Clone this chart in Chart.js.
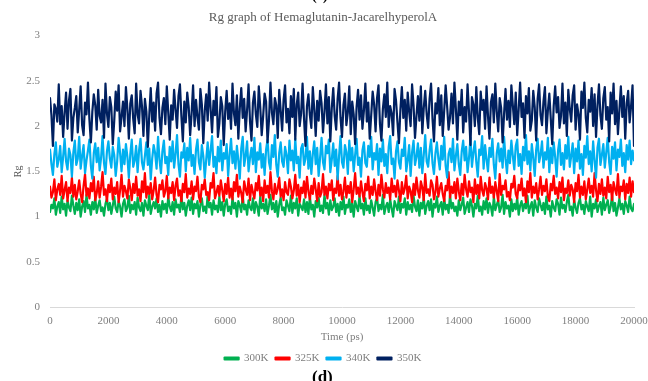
<!DOCTYPE html>
<html>
<head>
<meta charset="utf-8">
<script src="https://cdn.jsdelivr.net/npm/chart.js@4"></script>
<style>
  html, body { margin: 0; padding: 0; background: #ffffff; }
  #wrap { position: relative; width: 648px; height: 381px; overflow: hidden; }
  #cut-top { position: absolute; left: 312px; top: -12px; font: bold 14px "Liberation Serif", serif; color: #000; }
  #cut-bottom { position: absolute; left: 312px; top: 367px; font: bold 17px "Liberation Serif", serif; color: #000; }
</style>
</head>
<body>
<div id="wrap">
  <canvas id="rg" width="648" height="381"></canvas>
  <div id="cut-top">(c)</div>
  <div id="cut-bottom">(d)</div>
</div>
<script>
// Rg values sampled every 50 ps from 0 to 20000 ps
const seriesNames = ["300K", "325K", "340K", "350K"];
const seriesColors = ["#00b050", "#ff0000", "#00b0f0", "#002060"];
const yTicks = [0, 0.5, 1, 1.5, 2, 2.5, 3];

const rg300 = [
  1.05, 1.13, 1.09, 1.20, 1.02, 1.11, 1.16, 1.04, 1.22, 1.08, 1.14, 1.01, 1.18, 1.10, 1.06, 1.23, 1.12, 1.03, 1.15, 1.07,
  1.19, 1.00, 1.11, 1.17, 1.05, 1.24, 1.09, 1.13, 1.02, 1.16, 1.08, 1.21, 1.04, 1.12, 1.18, 1.06, 1.10, 1.01, 1.14, 1.20,
  1.07, 1.15, 1.03, 1.12, 1.22, 1.09, 1.05, 1.17, 1.11, 1.00, 1.14, 1.19, 1.06, 1.10, 1.23, 1.04, 1.13, 1.08, 1.16, 1.02,
  1.21, 1.10, 1.06, 1.15, 1.01, 1.18, 1.12, 1.07, 1.24, 1.03, 1.11, 1.16, 1.09, 1.20, 1.05, 1.13, 1.00, 1.17, 1.08, 1.14,
  1.04, 1.22, 1.11, 1.06, 1.16, 1.02, 1.19, 1.10, 1.13, 1.05, 1.23, 1.08, 1.15, 1.01, 1.12, 1.18, 1.07, 1.21, 1.03, 1.14,
  1.09, 1.17, 1.00, 1.13, 1.20, 1.06, 1.11, 1.04, 1.24, 1.10, 1.15, 1.02, 1.18, 1.08, 1.12, 1.05, 1.22, 1.07, 1.16, 1.01,
  1.14, 1.19, 1.06, 1.11, 1.03, 1.21, 1.09, 1.15, 1.00, 1.17, 1.12, 1.05, 1.23, 1.08, 1.13, 1.02, 1.18, 1.10, 1.07, 1.20,
  1.04, 1.16, 1.11, 1.01, 1.22, 1.09, 1.14, 1.06, 1.19, 1.03, 1.12, 1.24, 1.08, 1.15, 1.05, 1.17, 1.00, 1.13, 1.21, 1.07,
  1.10, 1.02, 1.18, 1.12, 1.06, 1.23, 1.04, 1.15, 1.09, 1.20, 1.01, 1.14, 1.11, 1.07, 1.19, 1.05, 1.16, 1.03, 1.22, 1.08,
  1.13, 1.00, 1.17, 1.10, 1.21, 1.06, 1.12, 1.04, 1.24, 1.09, 1.15, 1.02, 1.18, 1.07, 1.11, 1.20, 1.05, 1.14, 1.01, 1.16,
  1.08, 1.22, 1.03, 1.13, 1.10, 1.19, 1.05, 1.15, 1.00, 1.17, 1.11, 1.06, 1.23, 1.09, 1.14, 1.02, 1.20, 1.07, 1.12, 1.04,
  1.18, 1.10, 1.01, 1.16, 1.21, 1.06, 1.13, 1.08, 1.24, 1.03, 1.11, 1.15, 1.05, 1.19, 1.09, 1.00, 1.17, 1.12, 1.07, 1.22,
  1.04, 1.14, 1.10, 1.20, 1.02, 1.16, 1.08, 1.13, 1.05, 1.23, 1.11, 1.06, 1.18, 1.01, 1.15, 1.09, 1.21, 1.03, 1.12, 1.17,
  1.07, 1.19, 1.00, 1.14, 1.10, 1.22, 1.05, 1.12, 1.16, 1.02, 1.20, 1.08, 1.13, 1.04, 1.24, 1.09, 1.15, 1.06, 1.11, 1.01,
  1.18, 1.07, 1.13, 1.21, 1.03, 1.10, 1.16, 1.05, 1.19, 1.12, 1.00, 1.14, 1.09, 1.23, 1.06, 1.11, 1.02, 1.17, 1.08, 1.20,
  1.04, 1.15, 1.11, 1.01, 1.22, 1.07, 1.13, 1.18, 1.05, 1.10, 1.24, 1.03, 1.16, 1.09, 1.12, 1.00, 1.19, 1.06, 1.14, 1.08,
  1.21, 1.02, 1.12, 1.17, 1.06, 1.14, 1.09, 1.23, 1.04, 1.11, 1.16, 1.01, 1.18, 1.10, 1.05, 1.20, 1.13, 1.07, 1.15, 1.03,
  1.22, 1.08, 1.12, 1.00, 1.17, 1.10, 1.06, 1.19, 1.14, 1.02, 1.21, 1.09, 1.13, 1.05, 1.16, 1.24, 1.07, 1.11, 1.01, 1.18,
  1.10, 1.04, 1.15, 1.20, 1.08, 1.13, 1.03, 1.17, 1.11, 1.06, 1.22, 1.00, 1.14, 1.09, 1.19, 1.05, 1.12, 1.16, 1.02, 1.21,
  1.07, 1.13, 1.18, 1.04, 1.11, 1.23, 1.06, 1.15, 1.01, 1.10, 1.20, 1.08, 1.14, 1.03, 1.17, 1.12, 1.05, 1.22, 1.09, 1.06,
  1.14
];

const rg325 = [
  1.33, 1.21, 1.27, 1.41, 1.18, 1.30, 1.36, 1.24, 1.45, 1.20, 1.29, 1.38, 1.17, 1.32, 1.26, 1.43, 1.22, 1.35, 1.19, 1.28,
  1.40, 1.25, 1.16, 1.34, 1.47, 1.23, 1.31, 1.20, 1.37, 1.28, 1.44, 1.18, 1.26, 1.39, 1.21, 1.33, 1.49, 1.24, 1.30, 1.17,
  1.35, 1.27, 1.42, 1.19, 1.32, 1.25, 1.38, 1.16, 1.29, 1.46, 1.22, 1.34, 1.28, 1.20, 1.41, 1.31, 1.18, 1.36, 1.26, 1.44,
  1.23, 1.30, 1.17, 1.39, 1.27, 1.48, 1.21, 1.33, 1.25, 1.37, 1.19, 1.29, 1.43, 1.24, 1.16, 1.35, 1.30, 1.40, 1.22, 1.28,
  1.45, 1.20, 1.32, 1.26, 1.38, 1.18, 1.34, 1.42, 1.23, 1.29, 1.17, 1.36, 1.27, 1.47, 1.21, 1.31, 1.25, 1.39, 1.19, 1.33,
  1.28, 1.44, 1.22, 1.16, 1.35, 1.30, 1.41, 1.24, 1.27, 1.18, 1.37, 1.32, 1.48, 1.20, 1.26, 1.34, 1.23, 1.40, 1.29, 1.17,
  1.36, 1.25, 1.43, 1.21, 1.31, 1.19, 1.38, 1.28, 1.46, 1.22, 1.33, 1.26, 1.16, 1.39, 1.30, 1.24, 1.42, 1.18, 1.35, 1.27,
  1.20, 1.37, 1.29, 1.45, 1.23, 1.32, 1.17, 1.40, 1.26, 1.34, 1.21, 1.49, 1.28, 1.19, 1.36, 1.25, 1.31, 1.43, 1.22, 1.30,
  1.18, 1.38, 1.27, 1.24, 1.41, 1.33, 1.20, 1.29, 1.46, 1.23, 1.35, 1.16, 1.32, 1.26, 1.39, 1.21, 1.44, 1.28, 1.19, 1.34,
  1.25, 1.42, 1.30, 1.17, 1.37, 1.22, 1.27, 1.47, 1.24, 1.33, 1.20, 1.36, 1.29, 1.40, 1.18, 1.31, 1.26, 1.45, 1.23, 1.35,
  1.19, 1.28, 1.43, 1.21, 1.34, 1.26, 1.38, 1.16, 1.30, 1.48, 1.25, 1.32, 1.22, 1.39, 1.27, 1.17, 1.36, 1.29, 1.44, 1.20,
  1.33, 1.24, 1.41, 1.28, 1.18, 1.35, 1.23, 1.46, 1.30, 1.21, 1.37, 1.26, 1.32, 1.19, 1.42, 1.27, 1.34, 1.22, 1.40, 1.29,
  1.17, 1.38, 1.25, 1.31, 1.45, 1.20, 1.33, 1.28, 1.16, 1.36, 1.24, 1.43, 1.29, 1.21, 1.39, 1.32, 1.18, 1.47, 1.26, 1.30,
  1.23, 1.40, 1.35, 1.19, 1.27, 1.44, 1.22, 1.31, 1.37, 1.25, 1.17, 1.34, 1.29, 1.49, 1.21, 1.33, 1.26, 1.38, 1.20, 1.42,
  1.28, 1.18, 1.36, 1.24, 1.46, 1.30, 1.22, 1.39, 1.27, 1.32, 1.16, 1.41, 1.25, 1.35, 1.20, 1.44, 1.29, 1.23, 1.37, 1.31,
  1.19, 1.43, 1.26, 1.33, 1.21, 1.38, 1.28, 1.17, 1.47, 1.24, 1.34, 1.30, 1.40, 1.22, 1.27, 1.18, 1.36, 1.32, 1.45, 1.25,
  1.20, 1.35, 1.29, 1.42, 1.23, 1.31, 1.16, 1.39, 1.27, 1.48, 1.21, 1.33, 1.26, 1.37, 1.19, 1.30, 1.44, 1.24, 1.34, 1.28,
  1.41, 1.22, 1.17, 1.36, 1.29, 1.45, 1.25, 1.32, 1.20, 1.38, 1.27, 1.43, 1.18, 1.31, 1.26, 1.40, 1.23, 1.35, 1.30, 1.16,
  1.37, 1.28, 1.46, 1.21, 1.33, 1.24, 1.39, 1.19, 1.30, 1.42, 1.26, 1.34, 1.22, 1.48, 1.29, 1.17, 1.36, 1.25, 1.41, 1.23,
  1.32, 1.20, 1.44, 1.27, 1.35, 1.18, 1.38, 1.30, 1.24, 1.47, 1.21, 1.33, 1.28, 1.40, 1.19, 1.36, 1.26, 1.43, 1.22, 1.39,
  1.27
];

const rg340 = [
  1.74, 1.58, 1.46, 1.69, 1.82, 1.55, 1.63, 1.78, 1.49, 1.66, 1.86, 1.61, 1.52, 1.75, 1.68, 1.44, 1.71, 1.84, 1.57, 1.64,
  1.88, 1.53, 1.67, 1.79, 1.48, 1.62, 1.73, 1.85, 1.56, 1.42, 1.70, 1.81, 1.60, 1.76, 1.51, 1.65, 1.89, 1.59, 1.47, 1.72,
  1.83, 1.64, 1.54, 1.77, 1.68, 1.45, 1.61, 1.87, 1.70, 1.50, 1.74, 1.58, 1.80, 1.66, 1.43, 1.69, 1.85, 1.55, 1.62, 1.78,
  1.49, 1.73, 1.86, 1.60, 1.52, 1.67, 1.82, 1.57, 1.75, 1.41, 1.64, 1.79, 1.70, 1.53, 1.88, 1.63, 1.48, 1.72, 1.84, 1.59,
  1.66, 1.46, 1.77, 1.61, 1.83, 1.54, 1.69, 1.90, 1.58, 1.44, 1.71, 1.65, 1.81, 1.50, 1.76, 1.62, 1.87, 1.56, 1.68, 1.47,
  1.74, 1.85, 1.60, 1.52, 1.79, 1.67, 1.43, 1.63, 1.82, 1.57, 1.73, 1.89, 1.55, 1.66, 1.48, 1.77, 1.61, 1.84, 1.51, 1.70,
  1.64, 1.80, 1.45, 1.68, 1.86, 1.59, 1.72, 1.53, 1.78, 1.62, 1.42, 1.75, 1.88, 1.56, 1.67, 1.83, 1.50, 1.65, 1.76, 1.58,
  1.87, 1.49, 1.71, 1.63, 1.81, 1.54, 1.69, 1.46, 1.74, 1.85, 1.60, 1.52, 1.79, 1.66, 1.90, 1.57, 1.44, 1.70, 1.82, 1.61,
  1.55, 1.77, 1.68, 1.48, 1.84, 1.62, 1.73, 1.51, 1.86, 1.59, 1.66, 1.43, 1.75, 1.80, 1.57, 1.64, 1.88, 1.53, 1.72, 1.47,
  1.69, 1.83, 1.58, 1.76, 1.45, 1.65, 1.87, 1.60, 1.52, 1.78, 1.70, 1.85, 1.49, 1.63, 1.81, 1.56, 1.74, 1.41, 1.67, 1.89,
  1.60, 1.54, 1.79, 1.71, 1.47, 1.84, 1.62, 1.76, 1.50, 1.68, 1.86, 1.57, 1.65, 1.44, 1.73, 1.82, 1.59, 1.55, 1.78, 1.66,
  1.88, 1.52, 1.70, 1.63, 1.80, 1.46, 1.75, 1.61, 1.85, 1.56, 1.69, 1.48, 1.77, 1.89, 1.58, 1.64, 1.42, 1.72, 1.83, 1.60,
  1.53, 1.74, 1.67, 1.87, 1.50, 1.62, 1.79, 1.45, 1.71, 1.84, 1.57, 1.66, 1.81, 1.54, 1.76, 1.48, 1.68, 1.90, 1.61, 1.55,
  1.73, 1.85, 1.59, 1.47, 1.70, 1.82, 1.64, 1.52, 1.78, 1.63, 1.88, 1.56, 1.43, 1.69, 1.75, 1.60, 1.86, 1.51, 1.67, 1.80,
  1.58, 1.46, 1.72, 1.84, 1.62, 1.77, 1.49, 1.65, 1.87, 1.55, 1.71, 1.83, 1.60, 1.44, 1.74, 1.68, 1.89, 1.53, 1.79, 1.63,
  1.50, 1.76, 1.66, 1.86, 1.57, 1.42, 1.70, 1.81, 1.61, 1.75, 1.54, 1.88, 1.64, 1.48, 1.73, 1.59, 1.84, 1.67, 1.52, 1.78,
  1.85, 1.56, 1.69, 1.47, 1.77, 1.62, 1.90, 1.58, 1.72, 1.51, 1.80, 1.65, 1.45, 1.74, 1.86, 1.60, 1.68, 1.83, 1.54, 1.71,
  1.63, 1.87, 1.49, 1.76, 1.59, 1.82, 1.66, 1.44, 1.73, 1.85, 1.57, 1.70, 1.52, 1.79, 1.64, 1.88, 1.55, 1.67, 1.81, 1.48,
  1.75, 1.61, 1.84, 1.53, 1.69, 1.46, 1.78, 1.65, 1.89, 1.58, 1.72, 1.50, 1.83, 1.62, 1.43, 1.76, 1.86, 1.57, 1.68, 1.80,
  1.54, 1.71, 1.87, 1.60, 1.47, 1.77, 1.64, 1.82, 1.51, 1.74, 1.66, 1.85, 1.56, 1.70, 1.49, 1.79, 1.63, 1.84, 1.58, 1.73,
  1.62
];

const rg350 = [
  2.31, 2.12, 1.78, 2.24, 2.19, 2.05, 2.46, 2.02, 2.22, 1.88, 2.15, 2.37, 1.97, 2.28, 2.41, 1.84, 2.09, 2.20, 2.33, 1.93,
  2.18, 2.44, 2.01, 1.90, 2.26, 2.13, 2.48, 2.07, 1.82, 2.16, 2.35, 2.23, 1.96, 2.40, 2.11, 2.04, 2.29, 1.87, 2.47, 2.14,
  1.99, 2.32, 2.21, 1.80, 2.06, 2.38, 2.17, 2.45, 1.94, 2.10, 2.27, 2.00, 2.43, 2.19, 1.86, 2.25, 2.34, 2.08, 1.92, 2.47,
  2.13, 2.03, 2.39, 2.22, 1.89, 2.30, 2.16, 1.77, 2.12, 2.42, 2.05, 2.26, 1.95, 2.36, 2.48, 2.09, 1.91, 2.20, 2.31, 2.02,
  2.44, 2.15, 1.85, 2.23, 2.07, 2.40, 2.18, 1.98, 2.33, 2.46, 2.11, 1.83, 2.27, 2.04, 2.37, 2.21, 1.90, 2.14, 2.45, 2.00,
  2.29, 2.10, 1.96, 2.41, 2.24, 1.81, 2.17, 2.35, 2.06, 2.48, 2.19, 1.93, 2.28, 2.12, 2.43, 1.88, 2.03, 2.32, 2.22, 1.79,
  2.16, 2.39, 2.08, 2.25, 1.97, 2.47, 2.14, 2.01, 2.34, 1.86, 2.20, 2.42, 2.09, 2.30, 1.94, 2.18, 2.46, 2.05, 1.84, 2.26,
  2.38, 2.13, 1.99, 2.44, 2.21, 1.90, 2.11, 2.36, 2.27, 1.82, 2.07, 2.48, 2.15, 2.02, 2.31, 2.23, 1.87, 2.40, 2.17, 1.95,
  2.29, 2.45, 2.04, 2.19, 1.92, 2.33, 2.10, 2.41, 1.85, 2.24, 2.37, 2.00, 2.14, 2.47, 2.08, 1.78, 2.22, 2.35, 2.12, 1.98,
  2.43, 2.18, 1.89, 2.28, 2.06, 2.39, 2.25, 1.93, 2.16, 2.46, 2.03, 2.32, 1.83, 2.20, 2.42, 2.11, 1.96, 2.30, 2.48, 2.09,
  1.88, 2.23, 2.36, 2.01, 2.15, 2.44, 1.91, 2.27, 2.13, 1.80, 2.21, 2.40, 2.07, 2.34, 1.97, 2.17, 2.47, 2.05, 2.26, 1.86,
  2.12, 2.38, 2.24, 1.94, 2.31, 2.45, 2.02, 1.84, 2.19, 2.35, 2.10, 2.48, 1.99, 2.22, 2.14, 1.90, 2.41, 2.28, 2.04, 1.81,
  2.18, 2.43, 2.09, 2.29, 1.95, 2.37, 2.16, 2.00, 2.46, 2.23, 1.87, 2.11, 2.33, 2.06, 2.44, 1.92, 2.20, 2.39, 2.13, 1.98,
  2.30, 2.47, 2.08, 1.83, 2.25, 2.14, 2.42, 2.01, 2.34, 1.89, 2.17, 2.45, 2.22, 1.96, 2.10, 2.36, 2.03, 2.48, 2.19, 1.85,
  2.27, 2.12, 2.40, 1.93, 2.21, 2.05, 2.46, 2.15, 1.79, 2.32, 2.24, 2.00, 2.43, 2.09, 1.91, 2.38, 2.18, 2.29, 1.97, 2.44,
  2.11, 1.86, 2.26, 2.35, 2.04, 2.47, 2.16, 1.94, 2.31, 2.20, 1.82, 2.13, 2.41, 2.07, 2.28, 1.99, 2.45, 2.23, 2.02, 2.37,
  1.90, 2.18, 2.48, 2.10, 2.25, 1.87, 2.33, 2.14, 2.42, 1.95, 2.06, 2.39, 2.21, 1.84, 2.30, 2.46, 2.12, 2.01, 2.27, 2.43,
  1.92, 2.17, 2.36, 2.08, 1.80, 2.22, 2.44, 2.15, 2.32, 1.98, 2.11, 2.47, 2.03, 2.26, 1.89, 2.40, 2.19, 2.05, 2.34, 2.45,
  1.96, 2.24, 2.13, 1.85, 2.38, 2.20, 2.48, 2.09, 1.93, 2.29, 2.16, 2.42, 2.00, 2.35, 1.88, 2.23, 2.46, 2.12, 1.97, 2.31,
  2.43, 2.07, 2.21, 1.83, 2.37, 2.14, 2.47, 2.02, 2.28, 1.91, 2.18, 2.44, 2.10, 2.33, 1.86, 2.25, 2.39, 2.04, 2.22, 2.45,
  1.78
];

const allSeries = [rg300, rg325, rg340, rg350];
// time axis: one sample per 50 ps
const times = rg300.map((v, i) => i * 50);

const serifFont = "'Liberation Serif', 'DejaVu Serif', serif";
const ctx = document.getElementById("rg").getContext("2d");

const chart = new Chart(ctx, {
  type: "line",
  data: {
    labels: times,
    datasets: allSeries.map((vals, i) => ({
      label: seriesNames[i],
      data: vals.map((v, j) => ({ x: times[j], y: v })),
      borderColor: seriesColors[i],
      backgroundColor: seriesColors[i],
      borderWidth: 2.2,
      borderJoinStyle: "round",
      borderCapStyle: "round",
      pointRadius: 0,
      tension: 0,
      order: 4 - i, // later series painted on top, like the source
    })),
  },
  options: {
    responsive: false,
    animation: false,
    layout: { padding: { left: 12, right: 14, top: 6, bottom: 7 } },
    plugins: {
      title: {
        display: true,
        text: "Rg graph of Hemaglutanin-JacarelhyperolA",
        color: "#595959",
        font: { family: serifFont, size: 13, weight: "normal" },
        padding: { top: 4, bottom: 10 },
      },
      legend: {
        position: "bottom",
        labels: {
          boxWidth: 14,
          boxHeight: 2,
          color: "#7f7f7f",
          font: { family: serifFont, size: 11 },
          padding: 7,
          sort: (a, b) => a.datasetIndex - b.datasetIndex,
        },
      },
      tooltip: { enabled: false },
    },
    scales: {
      x: {
        type: "linear",
        min: 0,
        max: 20000,
        afterFit: (axis) => {
          // let the end labels hang into the outer padding
          axis.paddingLeft = 0;
          axis.paddingRight = 0;
        },
        ticks: {
          stepSize: 2000,
          color: "#7f7f7f",
          font: { family: serifFont, size: 11, lineHeight: 1.0 },
          maxRotation: 0,
          padding: 9,
          callback: (v) => v,
        },
        grid: { display: false, drawTicks: false },
        border: { display: true, color: "#d9d9d9", width: 1 },
        title: {
          display: true,
          text: "Time (ps)",
          color: "#7f7f7f",
          font: { family: serifFont, size: 11, lineHeight: 1.0 },
          padding: { top: -4, bottom: 3 },
        },
      },
      y: {
        min: 0,
        max: 3,
        afterBuildTicks: (axis) => {
          axis.ticks = yTicks.map((v) => ({ value: v }));
        },
        afterFit: (axis) => {
          axis.width = 38;
        },
        ticks: {
          color: "#7f7f7f",
          font: { family: serifFont, size: 11 },
          padding: 10,
          callback: (v) => String(v),
        },
        grid: { display: false, drawTicks: false },
        border: { display: false },
        title: {
          display: true,
          text: "Rg",
          color: "#595959",
          font: { family: serifFont, size: 10 },
          padding: 0,
        },
      },
    },
  },
});
</script>
</body>
</html>
